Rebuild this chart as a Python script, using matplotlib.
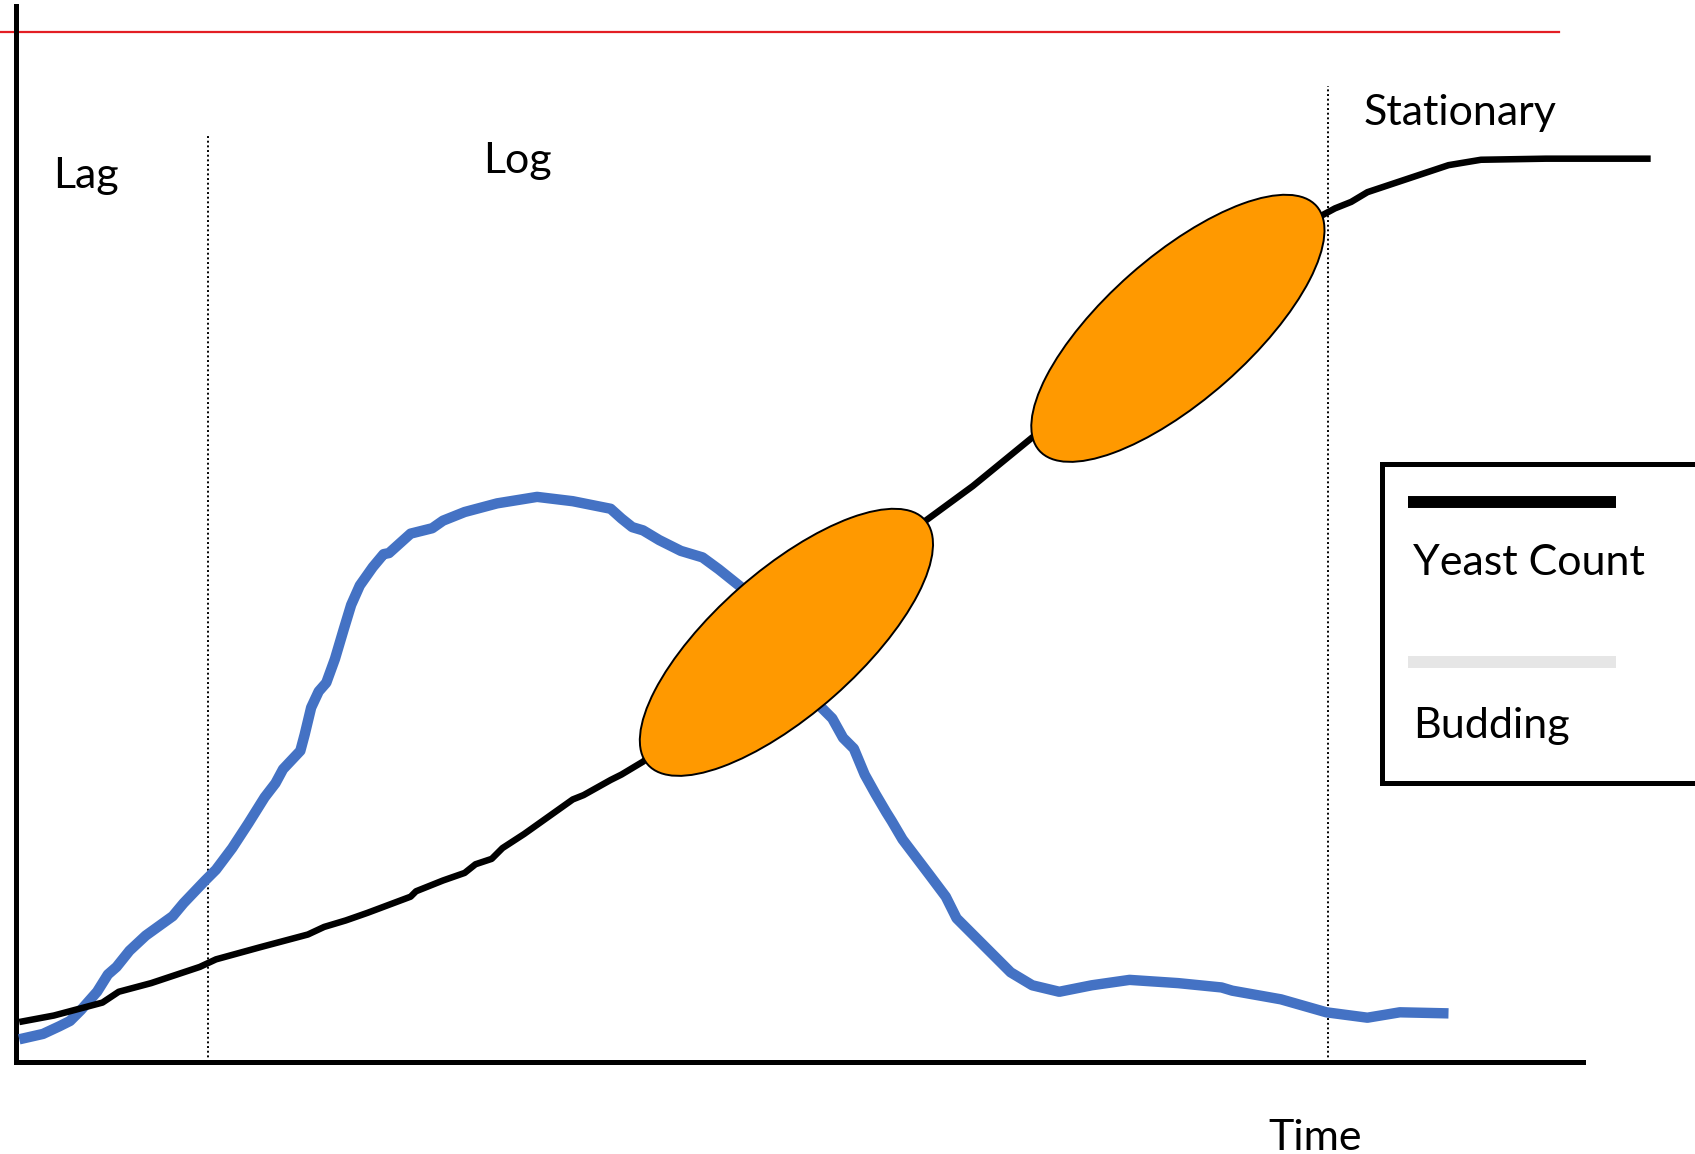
import matplotlib
matplotlib.use("Agg")
import matplotlib.pyplot as plt
from matplotlib.patches import Ellipse, Rectangle

plt.rcParams['font.family'] = ['Lato', 'DejaVu Sans']

# ---- data (arbitrary time / count units) ----
yeast_t = [3, 35, 80, 95, 125, 170, 185, 225, 270, 285, 305, 325, 365, 370, 395, 415,
           425, 440, 450, 470, 515, 525, 550, 560, 580, 685, 840, 885, 940, 1075, 1207,
           1220, 1235, 1250, 1280, 1325, 1355, 1415, 1512]
yeast_v = [37, 43, 55, 65, 73, 88, 95, 106, 118, 125, 131, 138, 153, 158, 168, 175,
           183, 188, 198, 211, 243, 247, 261, 266, 278, 363, 500, 533, 578, 683, 783,
           790, 796, 805, 815, 830, 835, 836, 836]

bud_t = [3, 25, 40, 50, 60, 75, 85, 93, 105, 120, 145, 155, 175, 185, 200, 215, 230, 240,
         247, 263, 267, 273, 280, 287, 295, 303, 310, 318, 330, 340, 345, 355, 365, 385,
         395, 415, 445, 482, 515, 550, 560, 570, 580, 595, 615, 635, 650, 670, 705, 745,
         755, 765, 775, 785, 795, 805, 810, 820, 845, 860, 870, 880, 900, 920, 940, 965,
         995, 1030, 1075, 1115, 1125, 1170, 1212, 1250, 1280, 1325]
bud_v = [21, 26, 33, 38, 48, 65, 81, 88, 103, 117, 135, 147, 168, 178, 198, 221, 245, 258,
         271, 288, 303, 328, 343, 351, 373, 400, 423, 441, 458, 470, 471, 480, 489, 494,
         501, 509, 517, 523, 519, 512, 503, 495, 492, 483, 473, 467, 456, 440, 393, 328,
         318, 300, 290, 266, 248, 231, 223, 206, 173, 153, 133, 123, 103, 83, 71, 65,
         71, 76, 73, 69, 66, 58, 46, 41, 46, 45]

# budding-burst highlights: centre time, centre value
burst_t = [712.6, 1074.7]
burst_v = [388.4, 679]

phase_names = ["Lag", "Log", "Stationary"]
phase_label_t = [34, 432, 1246]
phase_label_v = [809, 823, 867]
phase_bounds = [177.5, 1213.5]
phase_bound_top = [859, 903]

series_names = ["Yeast Count", "Budding"]
x_label = "Time"

# ---- figure ----
fig = plt.figure(figsize=(16.95, 11.54), dpi=100)
ax = fig.add_axes([16 / 1695, 92 / 1154, 1567 / 1695, 1056 / 1154])
ax.set_xlim(0, 1449.4)
ax.set_ylim(0, 977.3)
for s in ["top", "right"]:
    ax.spines[s].set_visible(False)
for s in ["left", "bottom"]:
    ax.spines[s].set_linewidth(3.6)
    ax.spines[s].set_color("black")
ax.set_xticks([])
ax.set_yticks([])

# red reference line at top
ax.plot([-15, 1427], [953, 953], color="#E31E24", lw=1.6, clip_on=False, zorder=2)

# phase boundaries
for b, top in zip(phase_bounds, phase_bound_top):
    ax.plot([b, b], [0, top], color="black", lw=1.4, linestyle=(0, (1, 1.4)), zorder=2)

# curves
ax.plot(bud_t, bud_v, color="#4472C4", lw=7.5, solid_joinstyle="round",
        solid_capstyle="butt", clip_on=False, zorder=3)
ax.plot(yeast_t, yeast_v, color="black", lw=4.7, solid_joinstyle="round",
        solid_capstyle="butt", clip_on=False, zorder=4)

# orange budding bursts
for cx, cy in zip(burst_t, burst_v):
    ax.add_patch(Ellipse((cx, cy), width=342, height=133, angle=41.4,
                         facecolor="#FF9900", edgecolor="black", lw=1.4, zorder=5))

# phase labels
for name, tx, ty in zip(phase_names, phase_label_t, phase_label_v):
    ax.text(tx, ty, name, fontsize=31, va="baseline", ha="left")

ax.text(1158, -81, x_label, fontsize=31, va="baseline", ha="left", clip_on=False)

# legend box (custom layout: sample line above label)
ax.add_patch(Rectangle((1263.5, 258.4), 500, 295.2, facecolor="white",
                       edgecolor="black", lw=3.6, clip_on=False, zorder=6))
ax.plot([1287.5, 1480], [518.4, 518.4], color="black", lw=8.6,
        solid_capstyle="butt", clip_on=False, zorder=7)
ax.plot([1287.5, 1480], [370, 370], color="#E6E6E6", lw=8.6,
        solid_capstyle="butt", clip_on=False, zorder=7)
ax.text(1292, 451, series_names[0], fontsize=31, va="baseline", ha="left", zorder=7)
ax.text(1292, 300, series_names[1], fontsize=31, va="baseline", ha="left", zorder=7)

fig.savefig("out.png", dpi=100)
